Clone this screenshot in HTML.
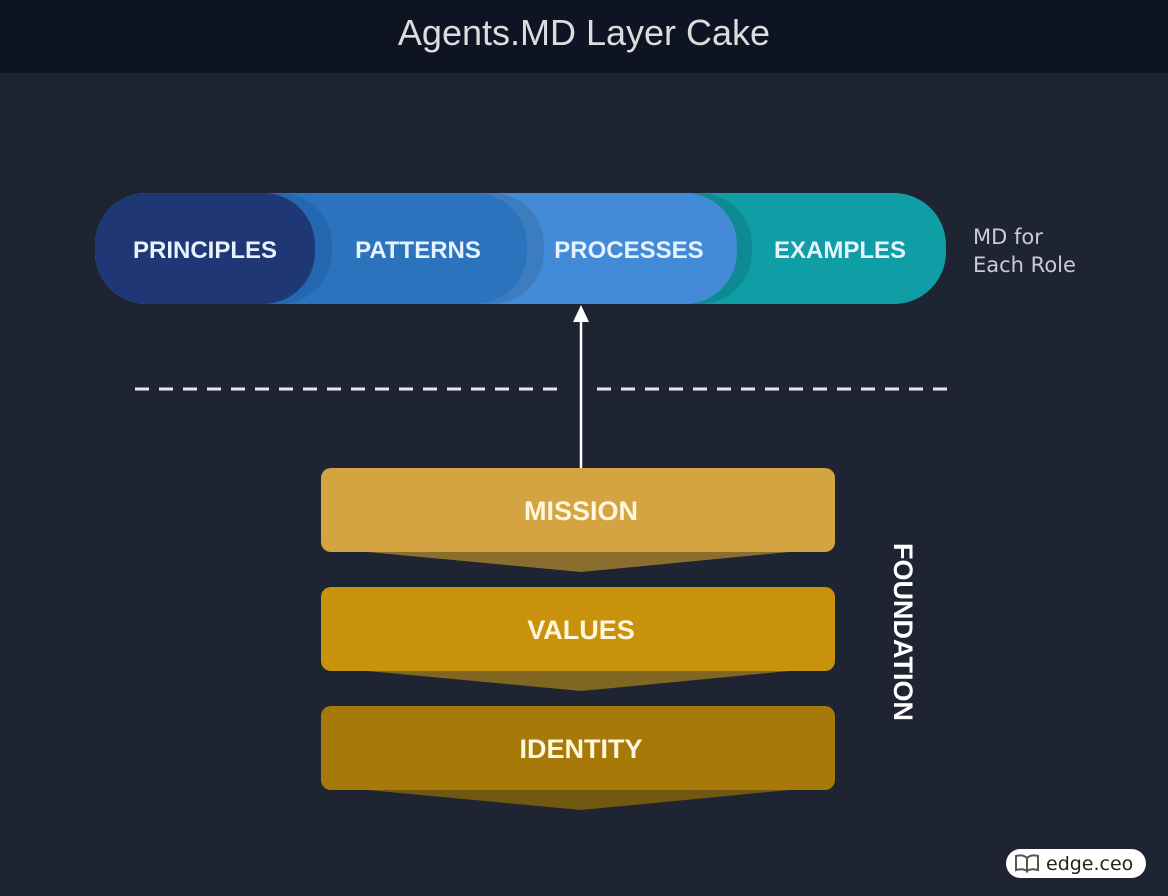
<!DOCTYPE html>
<html><head><meta charset="utf-8"><style>
html,body{margin:0;padding:0}
body{width:1168px;height:896px;background:#1f2433;position:relative;overflow:hidden;font-family:"DejaVu Sans","Liberation Sans",sans-serif}
</style></head><body>
<svg width="1168" height="896" xmlns="http://www.w3.org/2000/svg" style="position:absolute;left:0;top:0">
<rect x="0" y="0" width="1168" height="73" fill="#0f1424"/>
<text x="584" y="45" text-anchor="middle" font-family="Liberation Sans, sans-serif" font-size="36" fill="#dcdcdc">Agents.MD Layer Cake</text>

<rect x="95" y="193" width="851" height="111" rx="52" fill="#0f9ea5"/>
<rect x="95" y="193" width="657" height="111" rx="52" fill="#0d8a92"/>
<rect x="95" y="193" width="642" height="111" rx="52" fill="#438bd6"/>
<rect x="95" y="193" width="449" height="111" rx="52" fill="#3c7dbf"/>
<rect x="95" y="193" width="432" height="111" rx="52" fill="#2b74bd"/>
<rect x="95" y="193" width="237" height="111" rx="52" fill="#2567b0"/>
<rect x="95" y="193" width="220" height="111" rx="52" fill="#1f3774"/>
<g font-family="Liberation Sans, sans-serif" font-weight="bold" font-size="24" fill="#e8f2ff" text-anchor="middle">
<text x="205" y="258">PRINCIPLES</text>
<text x="418" y="258">PATTERNS</text>
<text x="629" y="258">PROCESSES</text>
<text x="840" y="258">EXAMPLES</text>
</g>
<text x="973" y="244" font-size="21" fill="#c9ccd6">MD for</text>
<text x="973" y="272" font-size="21" fill="#c9ccd6">Each Role</text>

<line x1="135" y1="389" x2="565" y2="389" stroke="#e8e8e8" stroke-width="3" stroke-dasharray="14 10"/>
<line x1="597" y1="389" x2="957" y2="389" stroke="#e8e8e8" stroke-width="3" stroke-dasharray="14 10"/>

<line x1="581" y1="468" x2="581" y2="318" stroke="#fff" stroke-width="2.5"/>
<polygon points="581,305 573,322 589,322" fill="#fff"/>

<polygon points="325,548 831,548 581,572" fill="#8a6e30"/>
<rect x="321" y="468" width="514" height="84" rx="10" fill="#d4a443"/>
<polygon points="325,667 831,667 581,691" fill="#806620"/>
<rect x="321" y="587" width="514" height="84" rx="10" fill="#c8930b"/>
<polygon points="325,786 831,786 581,810" fill="#705810"/>
<rect x="321" y="706" width="514" height="84" rx="10" fill="#a67908"/>
<g font-family="Liberation Sans, sans-serif" font-weight="bold" font-size="27" fill="#fff6dc" text-anchor="middle">
<text x="581" y="520">MISSION</text>
<text x="581" y="639">VALUES</text>
<text x="581" y="758">IDENTITY</text>
</g>
<text transform="translate(894,632) rotate(90)" text-anchor="middle" font-family="Liberation Sans, sans-serif" font-weight="bold" font-size="27" fill="#ffffff">FOUNDATION</text>

<rect x="1006" y="849" width="140" height="29" rx="14.5" fill="#fff"/>
<path d="M1016 856 q7 -2 11 2 v13 q-4 -3 -11 -1 z M1038 856 q-7 -2 -11 2 v13 q4 -3 11 -1 z" fill="none" stroke="#555" stroke-width="2"/>
<text x="1046" y="870" font-size="19" fill="#222">edge.ceo</text>
</svg>
</body></html>
